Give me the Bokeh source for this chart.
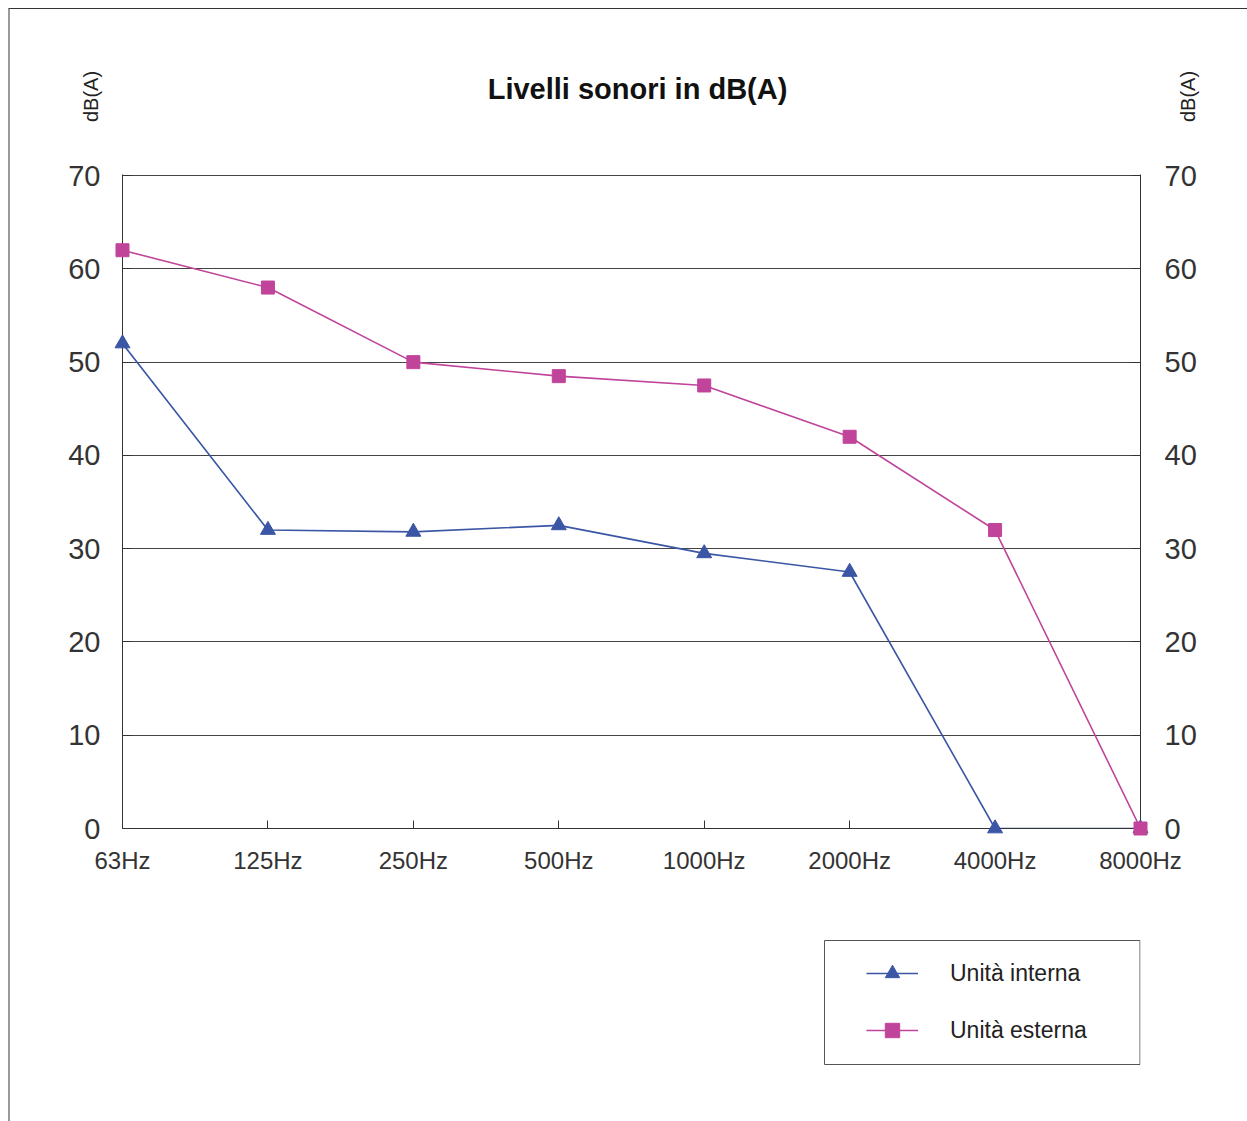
import math
from bokeh.plotting import figure
from bokeh.layouts import column
from bokeh.core.properties import value
from bokeh.models import Range1d, FixedTicker, LinearAxis, Label, Legend, LegendItem, BoxAnnotation
from bokeh.embed import file_html
from bokeh.resources import INLINE

categories = ["63Hz", "125Hz", "250Hz", "500Hz", "1000Hz", "2000Hz", "4000Hz", "8000Hz"]
interna = [52, 32, 31.8, 32.5, 29.5, 27.5, 0, 0]
esterna = [62, 58, 50, 48.5, 47.5, 42, 32, 0]
y_ticks = [0, 10, 20, 30, 40, 50, 60, 70]
title_text = "Livelli sonori in dB(A)"
unit_text = "dB(A)"
name_interna = "Unità interna"
name_esterna = "Unità esterna"

BLUE = "#3a56a5"
MAGENTA = "#c0449a"
FONT = "Liberation Sans"
TXT = "#333333"
W = 1237
H_HEAD = 145
H_MAIN = 734
H_FOOT = 233
NAN = float("nan")


def blank(height):
    # frames of the column are aligned with the main frame: 1 unit = 1 px
    f = figure(width=W, height=height, x_range=Range1d(112, 1130), y_range=Range1d(0, height),
               x_axis_location=None, y_axis_location=None, min_border=0,
               output_backend="svg", toolbar_location=None)
    f.grid.visible = False
    f.outline_line_color = None
    f.background_fill_color = "white"
    f.border_fill_color = "white"
    return f


# ---------------- header: title and unit labels ----------------
head = blank(H_HEAD)
head.add_layout(Label(x=627, y=66, text=title_text, text_font=FONT, text_font_size="29px",
                      text_font_style="bold", text_color="#111111", text_align="center",
                      text_baseline="middle", level="overlay"))
head.text(x=[80, 1177], y=[58, 58], text=[unit_text, unit_text], angle=math.pi / 2,
          text_font=value(FONT), text_font_size="20px", text_color="#222222", text_align="center",
          text_baseline="middle", level="overlay")

# ---------------- main chart ----------------
xs = list(range(len(categories)))
p = figure(width=W, height=H_MAIN, output_backend="svg", toolbar_location=None,
           x_range=Range1d(0, len(categories) - 1), y_range=Range1d(0, 70.12),
           min_border_left=112, min_border_right=107, min_border_top=20, min_border_bottom=60)
p.outline_line_color = None
p.background_fill_color = "white"
p.border_fill_color = "white"

xa = p.xaxis[0]
xa.ticker = FixedTicker(ticks=xs)
xa.major_label_overrides = {i: c for i, c in enumerate(categories)}
xa.major_label_text_font = FONT
xa.major_label_text_font_size = "24px"
xa.major_label_text_color = TXT
xa.major_label_standoff = 18
xa.major_tick_in = 8
xa.major_tick_out = 0
xa.minor_tick_line_color = None
xa.axis_line_color = "#333333"
xa.major_tick_line_color = "#333333"

ya = p.yaxis[0]
ya.ticker = FixedTicker(ticks=y_ticks)
ya.major_label_text_font = FONT
ya.major_label_text_font_size = "29px"
ya.major_label_text_color = TXT
ya.major_label_standoff = 22
ya.major_tick_in = 9
ya.major_tick_out = 0
ya.minor_tick_line_color = None
ya.axis_line_color = "#333333"
ya.major_tick_line_color = "#333333"

ra = LinearAxis(ticker=FixedTicker(ticks=y_ticks))
ra.major_label_text_font = FONT
ra.major_label_text_font_size = "29px"
ra.major_label_text_color = TXT
ra.major_label_standoff = 24
ra.major_tick_in = 9
ra.major_tick_out = 0
ra.minor_tick_line_color = None
ra.axis_line_color = "#333333"
ra.major_tick_line_color = "#333333"
p.add_layout(ra, "right")

p.xgrid.grid_line_color = None
p.ygrid.ticker = FixedTicker(ticks=y_ticks[1:])
p.ygrid.grid_line_color = "#444444"
p.ygrid.grid_line_width = 1

p.line(xs, interna, line_color=BLUE, line_width=1.6)
p.scatter(xs, interna, marker="triangle", size=15, fill_color=BLUE, line_color=BLUE, level="overlay")
p.line(xs, esterna, line_color=MAGENTA, line_width=1.6)
p.scatter(xs, esterna, marker="square", size=13, fill_color=MAGENTA, line_color=MAGENTA, level="overlay")

# ---------------- footer: legend ----------------
foot = blank(H_FOOT)
lg1 = foot.line([NAN], [NAN], line_color=BLUE, line_width=1.6)
mk1 = foot.scatter([NAN], [NAN], marker="triangle", size=15, fill_color=BLUE, line_color=BLUE)
lg2 = foot.line([NAN], [NAN], line_color=MAGENTA, line_width=1.6)
mk2 = foot.scatter([NAN], [NAN], marker="square", size=13, fill_color=MAGENTA, line_color=MAGENTA)
foot.add_layout(BoxAnnotation(left=814, right=1129.5, top=181, bottom=57, fill_alpha=0,
                              line_color="#555555", line_alpha=1, line_width=1, level="overlay"))
legend = Legend(items=[LegendItem(label=name_interna, renderers=[lg1, mk1]),
                       LegendItem(label=name_esterna, renderers=[lg2, mk2])],
                location=(744, 73), orientation="vertical",
                border_line_alpha=0, background_fill_alpha=0, padding=0, margin=0,
                glyph_width=52, glyph_height=36, label_height=36, spacing=21,
                label_standoff=32, label_text_font=FONT, label_text_font_size="23px",
                label_text_color="#222222", label_text_baseline="middle", level="overlay")
foot.add_layout(legend, "center")

page = column(head, p, foot, spacing=0,
              styles={"margin-left": "8px", "margin-top": "8px",
                      "border-top": "1px solid #333333", "border-left": "2px solid #999999"})

open("out.html", "w").write(file_html(page, INLINE))
